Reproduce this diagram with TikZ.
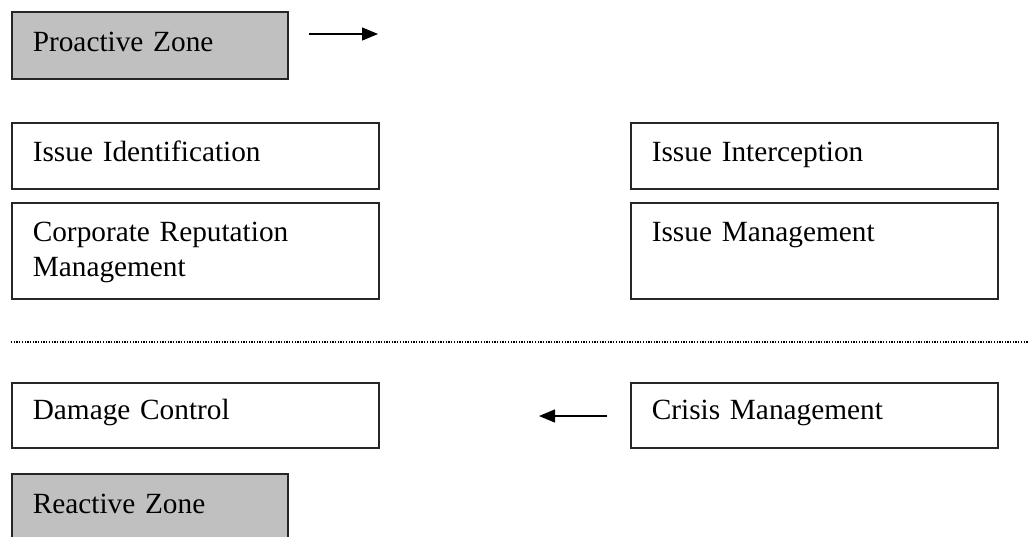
\documentclass[tikz,border=0pt]{standalone}
\usepackage{fontspec}
\setmainfont{Liberation Serif}
\usetikzlibrary{arrows.meta}
\definecolor{zonegray}{HTML}{C0C0C0}
\begin{document}
\begin{tikzpicture}[x=1pt,y=-1pt,
  box/.style={draw=black!85, line width=1.6pt, anchor=north west, inner xsep=21pt, inner ysep=0pt,
    align=left, font=\fontsize{29.3}{34.5}\selectfont},
  wide/.style={text width=325pt},
  zone/.style={box, fill=zonegray, text width=234pt},
  flow/.style={line width=1.4pt, -{Triangle[length=16pt,width=13pt]}},
  sep/.style={line width=1.3pt, dash pattern=on 1.3pt off 1.4pt}]
\clip (0,0) rectangle (1028,536);
\useasboundingbox (0,0) rectangle (1028,536);
\node[zone, text height=40pt, text depth=27pt] (pro) at (11,11) {Proactive Zone};
\node[box, wide, text height=39pt, text depth=27pt] (iid) at (11,122) {Issue Identification};
\node[box, wide, text height=39pt, text depth=27pt] (iic) at (630,122) {Issue Interception};
\node[box, wide, text height=39pt, text depth=57pt] (crm) at (11,202) {Corporate Reputation\\Management};
\node[box, wide, text height=39pt, text depth=57pt] (ism) at (630,202) {Issue Management};
\node[box, wide, text height=37pt, text depth=28pt] (dmc) at (11,382) {Damage Control};
\node[box, wide, text height=37pt, text depth=28pt] (crs) at (630,382) {Crisis Management};
\node[zone, text height=40pt, text depth=27pt] (rea) at (11,473) {Reactive Zone};
\coordinate (a1s) at (309,34);
\coordinate (a1e) at (378,34);
\coordinate (a2s) at (607,416);
\coordinate (a2e) at (539,416);
\coordinate (dl) at (11,342);
\coordinate (dr) at (1028,342);
\draw[flow] (a1s) -- (a1e);
\draw[flow] (a2s) -- (a2e);
\draw[sep] (dl) -- (dr);
\end{tikzpicture}
\end{document}
